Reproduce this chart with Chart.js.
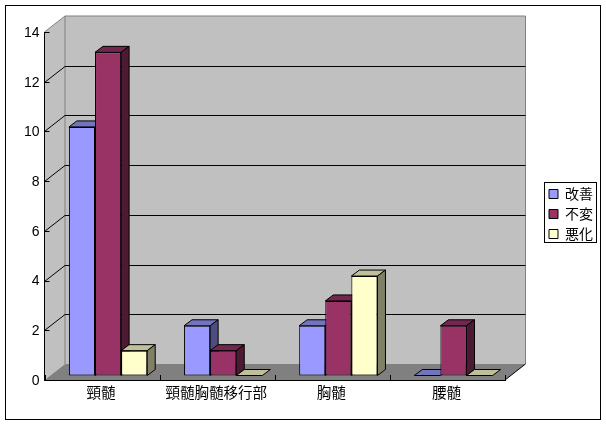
<!DOCTYPE html>
<html>
<head>
<meta charset="utf-8">
<style>html,body{margin:0;padding:0;background:#fff}canvas{display:block}</style>
<script src="https://cdn.jsdelivr.net/npm/chart.js@4"></script>
</head>
<body>
<div style="width:606px;height:425px"><canvas id="c" width="606" height="425"></canvas></div>
<script>
const categories = ['頸髄', '頸髄胸髄移行部', '胸髄', '腰髄'];
const seriesNames = ['改善', '不変', '悪化'];
const improved = [10, 2, 2, 0];
const unchanged = [13, 1, 3, 2];
const worsened = [1, 0, 4, 0];
const yTickStep = 2;
const yMax = 14;

const FILL = ['#9999FF', '#993366', '#FFFFCC'];
const TOP = ['#7373BF', '#732650', '#BFBF99'];
const SIDE = ['#4D4D80', '#4D1A33', '#808066'];
const WALL = {dx: 20.5, dy: 16};
const BAR_SHIFT = {dx: 6, dy: -4.5};
const BAR_DEPTH = {dx: 8, dy: 6};
const JP = '"Noto Sans CJK JP"';

function poly(ctx, pts, fill, stroke) {
  ctx.beginPath();
  pts.forEach((p, i) => i ? ctx.lineTo(p[0], p[1]) : ctx.moveTo(p[0], p[1]));
  ctx.closePath();
  if (fill) { ctx.fillStyle = fill; ctx.fill(); }
  if (stroke) { ctx.strokeStyle = stroke; ctx.lineWidth = 1; ctx.stroke(); }
}

const scene = {
  id: 'scene',
  beforeDraw(chart) {
    const {ctx, chartArea: a, scales: {x, y}} = chart;
    const l = a.left, r = a.right, t = a.top, b = a.bottom;
    const dx = WALL.dx, dy = WALL.dy;
    ctx.save();
    ctx.strokeStyle = '#000';
    ctx.lineWidth = 1;
    ctx.strokeRect(5.5, 5.5, 595, 414);
    poly(ctx, [[l + dx, t - dy], [r + dx, t - dy], [r + dx, b - dy], [l + dx, b - dy]], '#C0C0C0', null);
    poly(ctx, [[l, t], [l + dx, t - dy], [l + dx, b - dy], [l, b]], '#C0C0C0', null);
    poly(ctx, [[l, b], [l + dx, b - dy], [r + dx, b - dy], [r, b]], '#808080', null);
    ctx.strokeStyle = '#808080';
    ctx.beginPath();
    ctx.moveTo(l, t); ctx.lineTo(l + dx, t - dy); ctx.lineTo(r + dx, t - dy); ctx.lineTo(r + dx, b - dy);
    ctx.moveTo(l + dx, t - dy); ctx.lineTo(l + dx, b - dy);
    ctx.stroke();
    ctx.strokeStyle = '#000';
    y.ticks.forEach(tk => {
      const py = Math.round(y.getPixelForValue(tk.value)) + 0.5;
      ctx.beginPath();
      ctx.moveTo(l, py);
      ctx.lineTo(l + 5, py);
      if (tk.value > 0 && tk.value < yMax) {
        ctx.moveTo(l, py);
        ctx.lineTo(l + dx, py - dy);
        ctx.lineTo(r + dx, py - dy);
      }
      ctx.stroke();
    });
    ctx.beginPath();
    ctx.moveTo(r, b); ctx.lineTo(r + dx, b - dy);
    for (let i = 0; i <= categories.length; i++) {
      const px = Math.round(l + i * (r - l) / categories.length) + 0.5;
      ctx.moveTo(px, b); ctx.lineTo(px, b - 5);
    }
    ctx.stroke();
    ctx.restore();
  },
  beforeDatasetsDraw(chart) {
    const {ctx} = chart;
    ctx.save();
    ctx.translate(BAR_SHIFT.dx, BAR_SHIFT.dy);
    chart.data.datasets.forEach((ds, i) => {
      chart.getDatasetMeta(i).data.forEach(el => {
        const x0 = el.x - el.width / 2, x1 = el.x + el.width / 2;
        const yt = el.y, yb = el.base;
        const dx = BAR_DEPTH.dx, dy = BAR_DEPTH.dy;
        poly(ctx, [[x0, yt], [x0 + dx, yt - dy], [x1 + dx, yt - dy], [x1, yt]], TOP[i], '#000');
        if (yb - yt > 0.5) {
          poly(ctx, [[x1, yt], [x1 + dx, yt - dy], [x1 + dx, yb - dy], [x1, yb]], SIDE[i], '#000');
        }
      });
    });
  },
  afterDatasetsDraw(chart) {
    chart.ctx.restore();
  }
};

function place(chart) {
  const lg = chart.legend;
  if (!lg) return;
  lg.left = 543; lg.right = 597; lg.top = 181; lg.bottom = 400;
}
const legendPlacer = {
  id: 'legendPlacer',
  afterLayout(chart) { place(chart); },
  beforeDraw(chart) { place(chart); },
  afterDraw(chart) {
    const {ctx} = chart;
    ctx.save();
    ctx.strokeStyle = '#000';
    ctx.lineWidth = 1;
    ctx.strokeRect(544.5, 182.5, 52, 60);
    ctx.restore();
  }
};

new Chart(document.getElementById('c'), {
  type: 'bar',
  data: {
    labels: categories,
    datasets: [improved, unchanged, worsened].map((d, i) => ({
      label: seriesNames[i],
      data: d,
      backgroundColor: FILL[i],
      borderColor: '#000',
      borderWidth: 1,
      borderSkipped: false,
      clip: false,
      inflateAmount: 0
    }))
  },
  options: {
    responsive: false,
    animation: false,
    devicePixelRatio: 1,
    layout: {padding: {left: 0, right: 101, top: 32, bottom: 0}},
    datasets: {bar: {categoryPercentage: 0.68, barPercentage: 1}},
    scales: {
      x: {
        grid: {display: false, drawTicks: false, tickLength: 0},
        border: {display: true, color: '#000', width: 1},
        afterFit(s) { s.height = 45; s.paddingLeft = 0; s.paddingRight = 0; },
        ticks: {color: '#000', font: {family: JP, size: 14.5}, padding: 4, labelOffset: -1, maxRotation: 0, autoSkip: false}
      },
      y: {
        min: 0,
        max: yMax,
        grid: {display: false, drawTicks: false, tickLength: 0},
        border: {display: true, color: '#000', width: 1},
        afterFit(s) { s.width = 44.5; s.paddingTop = 0; s.paddingBottom = 0; },
        ticks: {stepSize: yTickStep, color: '#000', font: {family: '"Liberation Sans"', size: 14}, padding: 5, labelOffset: 1}
      }
    },
    plugins: {
      title: {display: false},
      tooltip: {enabled: false},
      legend: {
        display: true,
        position: 'chartArea',
        align: 'start',
        labels: {
          boxWidth: 9,
          boxHeight: 9,
          padding: 6,
          color: '#000',
          font: {family: JP, size: 14}
        }
      }
    }
  },
  plugins: [scene, legendPlacer]
});
</script>
</body>
</html>
